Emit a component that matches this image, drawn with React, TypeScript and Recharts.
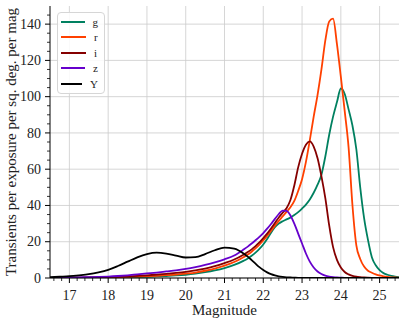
import { LineChart, Line, XAxis, YAxis, CartesianGrid, Legend, Label } from "recharts";

// magnitude grid (coarse on the faint tail, finer where the peaks are)
const magnitude = [
  16.5, 16.75, 17, 17.25, 17.5, 17.75, 18, 18.25, 18.5, 18.75, 19, 19.25, 19.5, 19.75, 20, 20.25, 20.5,
  20.75, 21, 21.25, 21.5, 21.6, 21.7, 21.8, 21.9, 22, 22.1, 22.2, 22.3, 22.4, 22.5, 22.6, 22.7, 22.8, 22.9,
  23, 23.1, 23.2, 23.3, 23.4, 23.5, 23.6, 23.7, 23.8, 23.9, 24, 24.1, 24.2, 24.3, 24.4, 24.5, 24.6, 24.7,
  24.8, 24.9, 25, 25.1, 25.2, 25.3, 25.4, 25.5,
];

const gBand = [
  0.02, 0.03, 0.05, 0.07, 0.1, 0.15, 0.2, 0.28, 0.38, 0.5, 0.65, 0.85, 1.1, 1.4, 1.8, 2.4, 3.2,
  4.2, 5.5, 7.2, 9.6, 10.8, 12.3, 14, 16, 18.5, 21.5, 25, 28, 30, 31.3, 32.3, 33.3, 34.7, 36.3,
  38.3, 40.5, 43.3, 47, 51.5, 57, 67, 79, 89, 97, 104.5, 101.5, 93, 84, 71, 50, 33, 21,
  11.5, 7, 4.3, 2.7, 1.8, 1.2, 0.8, 0.5,
];

const rBand = [
  0.03, 0.05, 0.08, 0.12, 0.17, 0.24, 0.33, 0.45, 0.6, 0.8, 1, 1.25, 1.55, 1.9, 2.4, 3, 4,
  5.2, 6.8, 8.8, 11.6, 12.9, 14.5, 16.3, 18.4, 20.7, 23.2, 26, 28.9, 31.5, 34, 36.5, 39, 42.5, 48,
  54.5, 64, 76, 89, 101, 115, 131, 141.5, 143, 129, 111, 92, 72, 40, 18, 10.5, 6.3, 4,
  2.9, 2, 1.4, 0.9, 0.6, 0.4, 0.3, 0.2,
];

const iBand = [
  0.05, 0.1, 0.15, 0.2, 0.3, 0.4, 0.5, 0.7, 0.9, 1.2, 1.5, 1.9, 2.3, 2.8, 3.4, 4.2, 5.2,
  6.5, 8.2, 10.2, 13, 14.3, 15.8, 17.6, 19.6, 22, 24.5, 27.3, 30.3, 33.4, 36, 38.5, 43, 51, 61,
  68.5, 73.5, 75.3, 72.5, 66, 56, 44, 29, 17, 10, 5.8, 3.3, 2, 1.2, 0.7, 0.45, 0.3, 0.2,
  0.12, 0.08, 0.05, 0.03, 0.02, 0.01, 0, 0,
];

const zBand = [
  0.1, 0.2, 0.3, 0.4, 0.5, 0.6, 0.8, 1.1, 1.5, 2, 2.5, 3, 3.6, 4.2, 5, 6, 7.2,
  8.6, 10.3, 12.4, 15.8, 17.3, 19, 20.8, 22.7, 24.8, 27.2, 29.8, 32.6, 35.3, 37.2, 37, 34.5, 30, 24.5,
  19, 13.5, 9, 5.8, 3.6, 2.2, 1.3, 0.8, 0.5, 0.3, 0.2, 0.1, 0.05, 0, 0, 0, 0, 0,
  0, 0, 0, 0, 0, 0, 0, 0,
];

const yBand = [
  0.4, 0.7, 1, 1.5, 2.1, 3.1, 4.5, 6.6, 9, 11.4, 13.2, 14, 13.5, 12.4, 11.3, 11.5, 13.2,
  15.3, 16.8, 16.2, 13.4, 11.8, 9.9, 7.9, 6, 4.4, 3.1, 2.1, 1.4, 0.9, 0.6, 0.4, 0.3, 0.2, 0.1,
  0.1, 0, 0, 0, 0, 0, 0, 0, 0, 0, 0, 0, 0, 0, 0, 0, 0, 0,
  0, 0, 0, 0, 0, 0, 0, 0,
];

const bands = [
  { key: "g", color: "#008060", values: gBand },
  { key: "r", color: "#ff4000", values: rBand },
  { key: "i", color: "#850000", values: iBand },
  { key: "z", color: "#6600cc", values: zBand },
  { key: "Y", color: "#000000", values: yBand },
];
const bandOrder = bands.map((b) => b.key);

const xMajor = [17, 18, 19, 20, 21, 22, 23, 24, 25];
const yMajor = [0, 20, 40, 60, 80, 100, 120, 140];
// minor ticks: 0.2 mag on x, 5 on y
const xAll = Array.from({ length: 45 }, (_, k) => Math.round((16.6 + 0.2 * k) * 10) / 10);
const yAll = Array.from({ length: 30 }, (_, k) => 5 * k);

const rows = magnitude.map((m, idx) => {
  const row: Record<string, number> = { m };
  bands.forEach((b) => (row[b.key] = b.values[idx]));
  return row;
});

const FONT = "'Liberation Serif', 'DejaVu Serif', serif";
const tickText = { fontFamily: FONT, fontSize: 14, fill: "#222" };

const XTick = (props: any) => {
  const { x, y, payload } = props;
  const v = payload.value;
  const major = Math.abs(v - Math.round(v)) < 1e-6;
  return (
    <g>
      <line x1={x} x2={x} y1={y} y2={y + (major ? 5 : 3)} stroke="#000" strokeWidth={major ? 1 : 0.8} />
      {major && (
        <text x={x} y={y + 22} textAnchor="middle" style={tickText}>
          {Math.round(v)}
        </text>
      )}
    </g>
  );
};

const YTick = (props: any) => {
  const { x, y, payload } = props;
  const v = payload.value;
  const major = v % 20 === 0;
  return (
    <g>
      <line x1={x} x2={x - (major ? 5 : 3)} y1={y} y2={y} stroke="#000" strokeWidth={major ? 1 : 0.8} />
      {major && (
        <text x={x - 9} y={y + 4.7} textAnchor="end" style={tickText}>
          {v}
        </text>
      )}
    </g>
  );
};

const LegendBox = (props: any) => {
  const items = [...(props.payload || [])].sort(
    (a: any, b: any) => bandOrder.indexOf(a.value) - bandOrder.indexOf(b.value)
  );
  return (
    <div
      style={{
        border: "1px solid #d6d6d6",
        borderRadius: 4,
        background: "rgba(255,255,255,0.85)",
        padding: "1px 6px 1px 3px",
        fontFamily: FONT,
        fontSize: 11,
        color: "#222",
      }}
    >
      {items.map((p: any) => (
        <div key={p.value} style={{ display: "flex", alignItems: "center", height: 15.5 }}>
          <span style={{ display: "inline-block", width: 25, height: 2, background: p.color, marginRight: 8 }} />
          <span style={{ fontFamily: FONT }}>{p.value}</span>
        </div>
      ))}
    </div>
  );
};

export default function App() {
  return (
    <div style={{ position: "absolute", left: 0, top: 0, width: 407, height: 321, background: "#fff" }}>
      <LineChart width={407} height={321} data={rows} margin={{ top: 6, right: 8, bottom: 0, left: 0 }}>
        <CartesianGrid stroke="#cccccc" strokeWidth={0.8} verticalValues={xMajor} horizontalValues={yMajor} />
        <XAxis
          dataKey="m"
          type="number"
          domain={[16.5, 25.5]}
          ticks={xAll}
          interval={0}
          height={43}
          tickSize={0}
          tickMargin={0}
          tick={<XTick />}
          axisLine={{ stroke: "#000", strokeWidth: 1 }}
          allowDataOverflow
        >
          <Label value="Magnitude" position="insideBottom" offset={6} style={{ fontFamily: FONT, fontSize: 15, fill: "#222" }} />
        </XAxis>
        <XAxis xAxisId="top" orientation="top" type="number" dataKey="m" domain={[16.5, 25.5]} height={0} tick={false} tickLine={false} axisLine={{ stroke: "#000", strokeWidth: 1 }} />
        <YAxis
          type="number"
          domain={[0, 150]}
          ticks={yAll}
          interval={0}
          width={50}
          tickSize={0}
          tickMargin={0}
          tick={<YTick />}
          axisLine={{ stroke: "#000", strokeWidth: 1 }}
          allowDataOverflow
        >
          <Label
            value="Transients per exposure per sq. deg. per mag"
            angle={-90}
            position="center"
            dx={-14}
            style={{ fontFamily: FONT, fontSize: 15, fill: "#222", textAnchor: "middle" }}
          />
        </YAxis>
        <YAxis yAxisId="right" orientation="right" domain={[0, 150]} width={0} tick={false} tickLine={false} axisLine={{ stroke: "#000", strokeWidth: 1 }} />
        <Legend
          layout="vertical"
          align="center"
          verticalAlign="middle"
          content={<LegendBox />}
          wrapperStyle={{ left: 57, top: 12, width: 48 }}
        />
        {bands.map((b) => (
          <Line
            key={b.key}
            dataKey={b.key}
            name={b.key}
            type="monotone"
            stroke={b.color}
            strokeWidth={1.8}
            dot={false}
            isAnimationActive={false}
          />
        ))}
      </LineChart>
    </div>
  );
}
